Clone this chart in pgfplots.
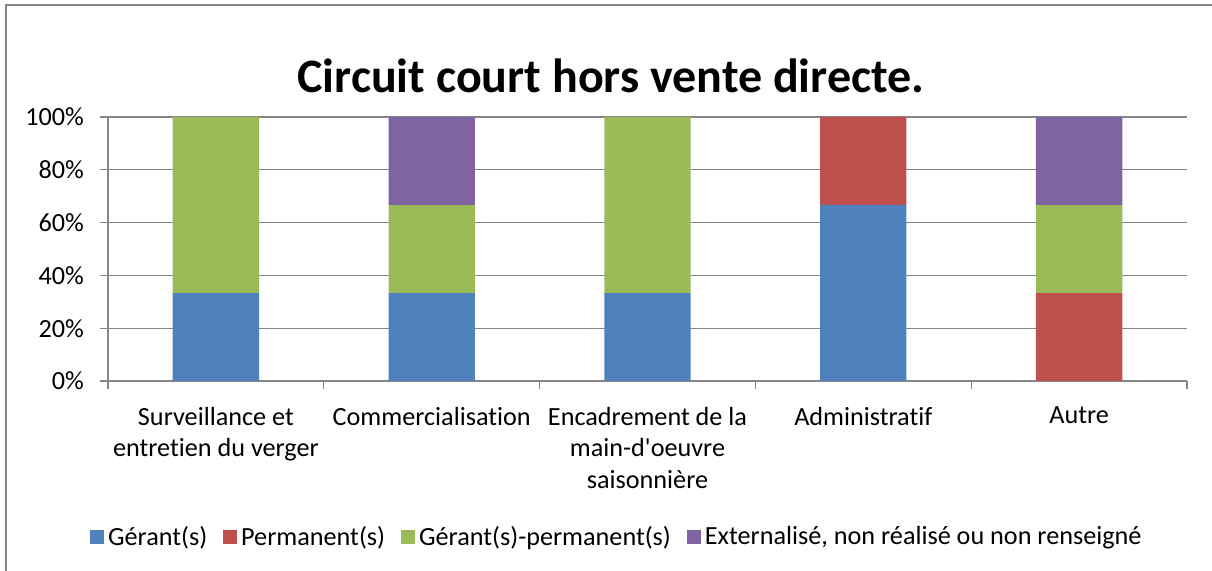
\documentclass[border=0pt]{standalone}
\usepackage{fontspec}
\setmainfont{Carlito}[Ligatures={TeX,NoCommon}]
\usepackage{pgfplots}
\usepackage{pgfplotstable}
\pgfplotsset{compat=1.18}

\definecolor{cBlue}{HTML}{4F81BD}
\definecolor{cRed}{HTML}{C0504D}
\definecolor{cGreen}{HTML}{9BBB59}
\definecolor{cPurple}{HTML}{8064A2}
\definecolor{lineGray}{HTML}{868686}

% shares per category (%)
\pgfplotstableread{
x  ger    perm   gp     ext
0  33.33  0      66.67  0
1  33.33  0      33.33  33.34
2  33.33  0      66.67  0
3  66.67  33.33  0      0
4  0      33.33  33.33  33.34
}\shares

\begin{document}
\begin{tikzpicture}[x=1pt,y=1pt]
\useasboundingbox (0,0) rectangle (606,285.5);
\fill[white] (0,0) rectangle (606,285.5);
\draw[line width=1pt, lineGray] (3,-2) -- (3,283) -- (608,283);
\node[anchor=base, font=\fontsize{24}{28}\selectfont\bfseries] at (305.5,239) {Circuit court hors vente directe.};

\begin{axis}[
    at={(54pt,95pt)}, anchor=south west,
    scale only axis, width=539.5pt, height=132pt,
    ybar stacked, bar width=0.4,
    xmin=-0.5, xmax=4.5, ymin=0, ymax=100,
    axis lines*=left, axis line style={-, lineGray, line width=0.6pt},
    ymajorgrids, grid style={lineGray, line width=0.6pt},
    tick align=outside, major tick length=4pt,
    tick style={lineGray, line width=0.6pt},
    ytick={0,20,40,60,80,100},
    yticklabels={0\%,20\%,40\%,60\%,80\%,100\%},
    yticklabel style={font=\fontsize{13.1}{15}\selectfont, black, xshift=-4.5pt},
    xtick={-0.5,0.5,1.5,2.5,3.5,4.5},
    xticklabels={},
    extra x ticks={0,1,2,3,4},
    extra x tick labels={{Surveillance et\\entretien du verger},{Commercialisation},{Encadrement de la\\main-d\textquotesingle oeuvre\\saisonnière},{Administratif},{Autre}},
    extra x tick style={major tick length=0pt, grid=none,
        xticklabel style={align=center, font=\fontsize{13.1}{15.8}\selectfont, black, anchor=north, yshift=-9.5pt}},
    legend columns=-1,
    legend style={at={(0.4725,-0.591)}, anchor=center, draw=none,
        font=\fontsize{13.1}{15}\selectfont,
        /tikz/every even column/.append style={column sep=6pt}},
    legend image code/.code={\fill[#1, draw=none] (-1.5pt,-3.5pt) rectangle (5.5pt,3.5pt);},
]
\addplot[fill=cBlue, draw=none] table[x=x, y=ger] {\shares};
\addplot[fill=cRed, draw=none] table[x=x, y=perm] {\shares};
\addplot[fill=cGreen, draw=none] table[x=x, y=gp] {\shares};
\addplot[fill=cPurple, draw=none] table[x=x, y=ext] {\shares};
\legend{Gérant(s), Permanent(s), Gérant(s)-permanent(s), {Externalisé, non réalisé ou non renseigné}}
\end{axis}
\end{tikzpicture}
\end{document}
